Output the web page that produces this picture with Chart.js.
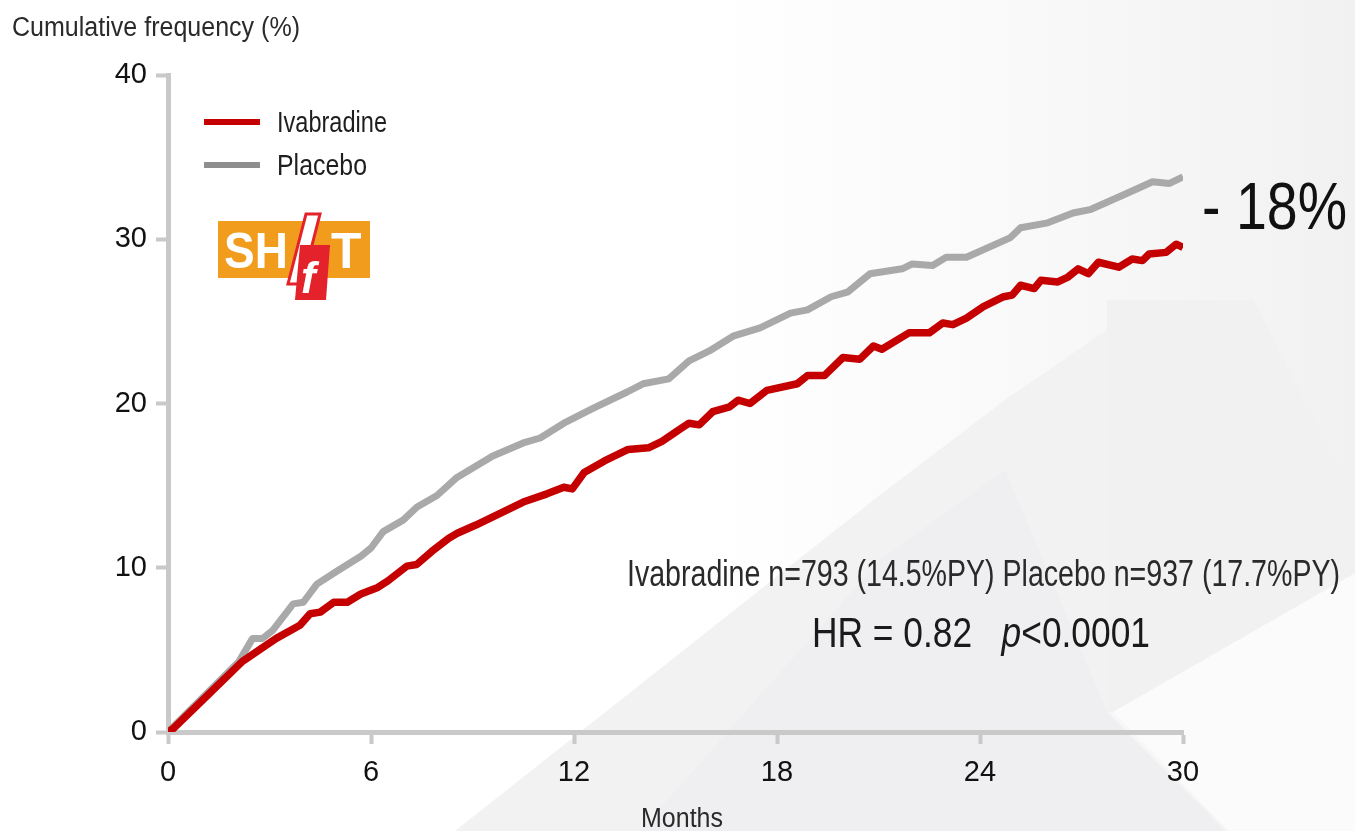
<!DOCTYPE html>
<html>
<head>
<meta charset="utf-8">
<title>SHIFT – cumulative frequency</title>
<script src="https://cdn.jsdelivr.net/npm/chart.js@4.4.1/dist/chart.umd.min.js"></script>
<style>
  html, body { margin: 0; padding: 0; background: #fff; }
  #wrap { position: relative; width: 1355px; height: 831px; }
</style>
</head>
<body>
<div id="wrap"><canvas id="chart" width="1355" height="831"></canvas></div>
<script>
// Kaplan-Meier style curves, months vs cumulative %
const ivabradineMonths = [0, 0.15, 1.2, 2.2, 2.7, 3.2, 3.9, 4.2, 4.5, 4.9, 5.3, 5.7, 6.2, 6.5, 7.06, 7.35, 7.8, 8.3, 8.55, 9.1,
  9.8, 10.5, 11.2, 11.7, 11.95, 12.3, 12.9, 13.6, 14.2, 14.6, 15.1, 15.4, 15.7, 16.1, 16.6, 16.85, 17.2, 17.7, 18.6, 18.9,
  19.4, 19.95, 20.45, 20.85, 21.1, 21.9, 22.5, 22.9, 23.2, 23.6, 24.1, 24.7, 24.95, 25.2, 25.6, 25.8, 26.3, 26.6, 26.9, 27.2,
  27.5, 28.1, 28.5, 28.8, 29.0, 29.5, 29.8, 30.0];
const ivabradineValues = [0, 0.2, 2.3, 4.3, 5.0, 5.7, 6.5, 7.2, 7.3, 7.9, 7.9, 8.4, 8.8, 9.2, 10.1, 10.2, 11.0, 11.8, 12.1, 12.6,
  13.3, 14.0, 14.5, 14.9, 14.8, 15.8, 16.5, 17.2, 17.3, 17.7, 18.4, 18.8, 18.7, 19.5, 19.8, 20.2, 20.0, 20.8, 21.2, 21.7,
  21.7, 22.8, 22.7, 23.5, 23.3, 24.3, 24.3, 24.9, 24.8, 25.2, 25.9, 26.5, 26.6, 27.2, 27.0, 27.5, 27.4, 27.7, 28.2, 27.9,
  28.6, 28.3, 28.8, 28.7, 29.1, 29.2, 29.7, 29.5];

const placeboMonths = [0, 2.1, 2.5, 2.8, 3.1, 3.7, 4.0, 4.4, 5.0, 5.7, 6.0, 6.36, 6.95, 7.36, 7.95, 8.54, 9.6, 10.5, 11.0, 11.7,
  12.56, 13.57, 14.04, 14.8, 15.4, 16.0, 16.7, 17.5, 18.4, 18.9, 19.6, 20.1, 20.75, 21.7, 22.0, 22.6, 23.0, 23.6, 24.9, 25.2,
  26.0, 26.75, 27.25, 28.35, 29.1, 29.6, 30.0];
const placeboValues = [0, 4.3, 5.7, 5.7, 6.2, 7.8, 7.9, 9.0, 9.8, 10.7, 11.2, 12.2, 12.9, 13.7, 14.4, 15.5, 16.8, 17.6, 17.9, 18.8,
  19.7, 20.7, 21.2, 21.5, 22.6, 23.2, 24.1, 24.6, 25.5, 25.7, 26.5, 26.8, 27.9, 28.2, 28.5, 28.4, 28.9, 28.9, 30.1, 30.7,
  31.0, 31.6, 31.8, 32.8, 33.5, 33.4, 33.8];

const monthTicks = [0, 6, 12, 18, 24, 30];
const percentTicks = [0, 10, 20, 30, 40];
const seriesLabels = ['Ivabradine', 'Placebo'];

const yAxisTitle = 'Cumulative frequency (%)';
const xAxisTitle = 'Months';
const reductionText = '- 18%';
const eventsText = 'Ivabradine n=793 (14.5%PY) Placebo n=937 (17.7%PY)';
const hrParts = [['HR = 0.82   ', ''], ['p', 'italic '], ['<0.0001', '']];

const FONT = '"Liberation Sans", Arial, Helvetica, sans-serif';
const AXIS_GREY = '#c9c9c9';

function toPoints(xs, ys) {
  return xs.map((x, i) => ({ x: x, y: ys[i] }));
}

// draws text at a given size, squeezed horizontally to a target width
function fitText(ctx, parts, x, y, width, size, color) {
  ctx.save();
  ctx.fillStyle = color;
  ctx.textBaseline = 'alphabetic';
  let total = 0;
  parts.forEach(p => {
    ctx.font = p[1] + size + 'px ' + FONT;
    total += ctx.measureText(p[0]).width;
  });
  ctx.translate(x, y);
  ctx.scale(width / total, 1);
  let cx = 0;
  parts.forEach(p => {
    ctx.font = p[1] + size + 'px ' + FONT;
    ctx.fillText(p[0], cx, 0);
    cx += ctx.measureText(p[0]).width;
  });
  ctx.restore();
}

function poly(ctx, pts, fill) {
  ctx.beginPath();
  ctx.moveTo(pts[0][0], pts[0][1]);
  for (let i = 1; i < pts.length; i++) ctx.lineTo(pts[i][0], pts[i][1]);
  ctx.closePath();
  ctx.fillStyle = fill;
  ctx.fill();
}

// faceted light grey backdrop
const backdrop = {
  id: 'backdrop',
  beforeDraw(chart) {
    const ctx = chart.ctx;
    const w = chart.width, h = chart.height;
    ctx.save();
    ctx.fillStyle = '#ffffff';
    ctx.fillRect(0, 0, w, h);
    const g = ctx.createLinearGradient(700, 0, w, 0);
    g.addColorStop(0, 'rgba(244,244,244,0)');
    g.addColorStop(1, 'rgba(241,241,241,1)');
    ctx.fillStyle = g;
    ctx.fillRect(700, 0, w - 700, h);
    poly(ctx, [[455, 831], [880, 495], [1005, 400], [1107, 330], [1107, 712], [1225, 831]], '#f2f2f3');
    poly(ctx, [[640, 831], [880, 560], [1005, 470], [1107, 712], [1225, 831]], '#efeff1');
    poly(ctx, [[1107, 300], [1253, 300], [1355, 500], [1355, 573], [1113, 712], [1107, 712]], '#f1f1f1');
    poly(ctx, [[1113, 712], [1355, 573], [1355, 831], [1228, 831]], '#fbfbfb');
    ctx.restore();
  }
};

// titles, legend, annotations and logo
const overlay = {
  id: 'overlay',
  afterDraw(chart) {
    const ctx = chart.ctx;

    fitText(ctx, [[yAxisTitle, '']], 12, 36, 288, 27, '#2a2a2a');
    fitText(ctx, [[xAxisTitle, '']], 641, 827, 82, 27, '#2a2a2a');

    // legend
    chart.data.datasets.forEach((ds, i) => {
      const y = 122 + i * 43;
      ctx.save();
      ctx.strokeStyle = ds.legendColor;
      ctx.lineWidth = 6;
      ctx.beginPath();
      ctx.moveTo(204, y);
      ctx.lineTo(260, y);
      ctx.stroke();
      ctx.restore();
      const w = i === 0 ? 110 : 90;
      fitText(ctx, [[ds.label, '']], 277, y + 10, w, 29, '#1e1e1e');
    });

    fitText(ctx, [[reductionText, '']], 1202, 229, 145, 66, '#111111');
    fitText(ctx, [[eventsText, '']], 627, 586, 713, 36, '#2a2a2a');
    fitText(ctx, hrParts, 812, 647, 338, 42, '#1a1a1a');

    // SHIfT logo
    ctx.save();
    ctx.fillStyle = '#f29c1e';
    ctx.fillRect(218, 221, 152, 57);
    ctx.fillStyle = '#ffffff';
    ctx.font = 'bold 50px ' + FONT;
    ctx.textBaseline = 'alphabetic';
    ctx.save();
    ctx.translate(224, 268);
    ctx.scale(0.92, 1);
    ctx.fillText('SH', 0, 0);
    ctx.restore();
    ctx.fillText('T', 331, 268);
    // slanted I
    ctx.beginPath();
    ctx.moveTo(306, 214); ctx.lineTo(320, 214); ctx.lineTo(302, 284); ctx.lineTo(288, 284);
    ctx.closePath();
    ctx.fillStyle = '#ffffff';
    ctx.fill();
    ctx.strokeStyle = '#e3222b';
    ctx.lineWidth = 3;
    ctx.stroke();
    // f badge
    ctx.beginPath();
    ctx.moveTo(300, 245); ctx.lineTo(330, 245); ctx.lineTo(326, 300); ctx.lineTo(295, 300);
    ctx.closePath();
    ctx.fillStyle = '#e3222b';
    ctx.fill();
    ctx.fillStyle = '#ffffff';
    ctx.font = 'italic bold 44px ' + FONT;
    ctx.fillText('f', 301, 293);
    ctx.restore();
  }
};

new Chart(document.getElementById('chart'), {
  type: 'line',
  data: {
    datasets: [
      {
        label: seriesLabels[0],
        data: toPoints(ivabradineMonths, ivabradineValues),
        borderColor: '#c40000',
        legendColor: '#c40000',
        borderWidth: 7.5
      },
      {
        label: seriesLabels[1],
        data: toPoints(placeboMonths, placeboValues),
        borderColor: '#a9a9a9',
        legendColor: '#8e8e8e',
        borderWidth: 7
      }
    ]
  },
  options: {
    responsive: false,
    animation: false,
    devicePixelRatio: 1,
    layout: { padding: { left: 0, top: 75, right: 172, bottom: 0 } },
    elements: {
      point: { radius: 0 },
      line: { tension: 0, borderJoinStyle: 'round', borderCapStyle: 'butt', fill: false }
    },
    plugins: {
      legend: { display: false },
      tooltip: { enabled: false }
    },
    scales: {
      x: {
        type: 'linear',
        min: 0,
        max: 30,
        afterBuildTicks: s => { s.ticks = monthTicks.map(v => ({ value: v })); },
        afterFit: s => { s.height = 99; },
        border: { display: true, color: AXIS_GREY, width: 5 },
        grid: { drawOnChartArea: false, drawTicks: true, tickLength: 12, tickColor: AXIS_GREY, tickWidth: 4 },
        ticks: {
          color: '#111111',
          padding: 12,
          maxRotation: 0,
          font: { family: '"Liberation Sans Narrow", ' + FONT, size: 29 }
        }
      },
      y: {
        type: 'linear',
        min: 0,
        max: 40,
        afterBuildTicks: s => { s.ticks = percentTicks.map(v => ({ value: v })); },
        afterFit: s => { s.width = 168; },
        border: { display: true, color: AXIS_GREY, width: 5 },
        grid: { drawOnChartArea: false, drawTicks: true, tickLength: 12, tickColor: AXIS_GREY, tickWidth: 4 },
        ticks: {
          color: '#111111',
          padding: 9,
          font: { family: '"Liberation Sans Narrow", ' + FONT, size: 29 }
        }
      }
    }
  },
  plugins: [backdrop, overlay]
});
</script>
</body>
</html>
